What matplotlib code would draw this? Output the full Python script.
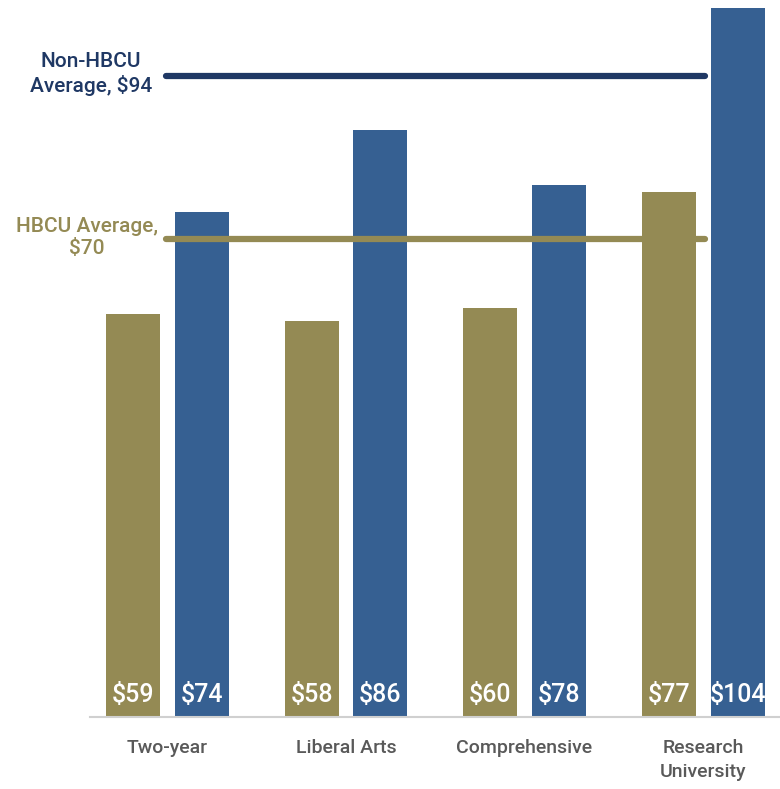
import matplotlib
matplotlib.use("Agg")
import matplotlib.pyplot as plt
import numpy as np

categories = ["Two-year", "Liberal Arts", "Comprehensive", "Research\nUniversity"]
hbcu = [59, 58, 60, 77]
non_hbcu = [74, 86, 78, 104]
hbcu_avg = 70
non_hbcu_avg = 94

gold = "#948a54"
blue = "#366092"
navy = "#1f3864"

plt.rcParams["font.family"] = ["Roboto", "DejaVu Sans"]
plt.rcParams["font.weight"] = "medium"

fig = plt.figure(figsize=(7.8, 7.89), dpi=100)
ax = fig.add_axes([90 / 780, 72 / 789, 690 / 780, 717 / 789])

x = np.arange(len(categories))
w = 0.3025
off = 0.193
ax.bar(x - off, hbcu, w, color=gold)
ax.bar(x + off, non_hbcu, w, color=blue)

for xi, v in zip(x, hbcu):
    ax.text(xi - off, 1.5, f"${v}", ha="center", va="bottom", color="white", fontsize=18)
for xi, v in zip(x, non_hbcu):
    ax.text(xi + off, 1.5, f"${v}", ha="center", va="bottom", color="white", fontsize=18)

ax.hlines(non_hbcu_avg, -0.008, 3.011, color=navy, lw=4.5, capstyle="round")
ax.hlines(hbcu_avg, -0.008, 3.011, color=gold, lw=4.5, capstyle="round")

ax.text(-0.43, non_hbcu_avg + 0.3, f"Non-HBCU\nAverage, ${non_hbcu_avg}", ha="center", va="center",
        color=navy, fontsize=15, linespacing=1.25)
ax.text(-0.45, hbcu_avg + 0.3, f"HBCU Average,\n${hbcu_avg}", ha="center", va="center",
        color=gold, fontsize=15, linespacing=1.25)

ax.set_xlim(-0.434, 3.431)
ax.set_ylim(0, 105.1)
ax.set_xticks(x)
ax.set_xticklabels(categories, color="#595959", fontsize=14, linespacing=1.4)
ax.tick_params(axis="x", length=0, pad=16)
ax.set_yticks([])
for s in ["top", "right", "left"]:
    ax.spines[s].set_visible(False)
ax.spines["bottom"].set_color("#d0d0d0")
ax.spines["bottom"].set_linewidth(1.5)

fig.savefig("out.png", dpi=100)
